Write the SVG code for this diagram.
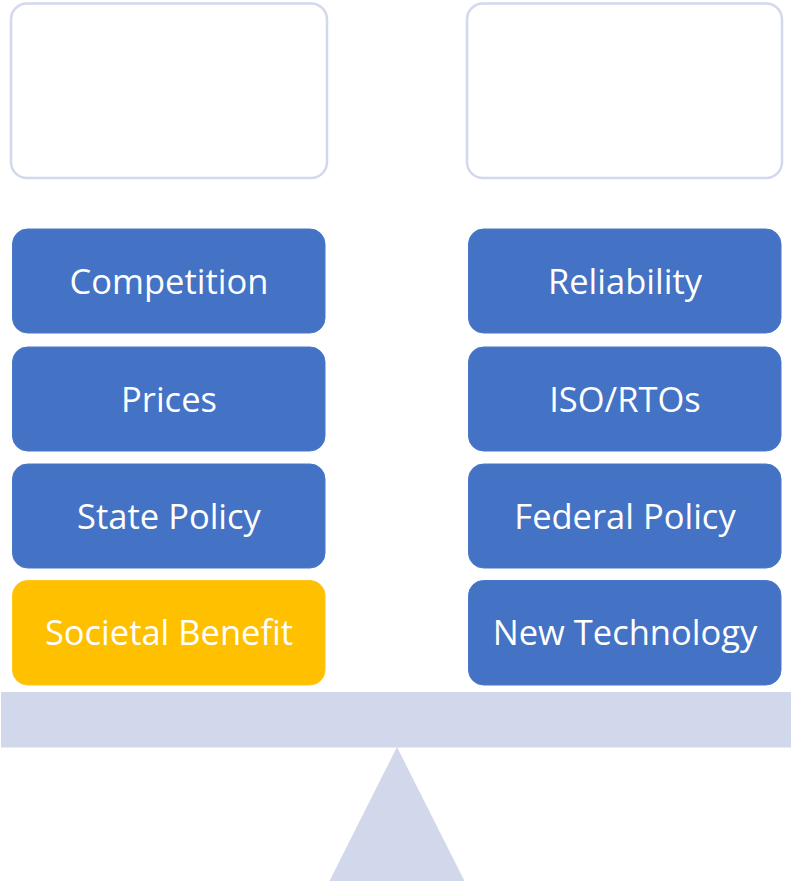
<svg xmlns="http://www.w3.org/2000/svg" width="791" height="884" viewBox="0 0 791 884">
  <style>
    .pan { fill: #FFFFFF; stroke: #D3D8EC; stroke-width: 2.5; }
    .blk { fill: #4472C4; stroke: #4A78C8; stroke-width: 1; }
    .gold { fill: #FFC000; stroke: #FFC61A; stroke-width: 1; }
    .lbl { fill: #FFFFFF; font-family: "Open Sans", "Liberation Sans", sans-serif; font-size: 34.5px; text-anchor: middle; dominant-baseline: central; }
    .scale { fill: #D2D8EB; }
  </style>
  <rect width="791" height="884" fill="#FFFFFF"/>

  <!-- empty pans -->
  <g id="pan-left"><rect class="pan" x="11" y="3.5" width="316" height="174.5" rx="16"/></g>
  <g id="pan-right"><rect class="pan" x="467" y="3.5" width="315" height="174.5" rx="16"/></g>

  <!-- left stack -->
  <g id="competition"><rect class="blk" x="12.5" y="229" width="312.5" height="104" rx="15"/><text class="lbl" x="169" y="280">Competition</text></g>
  <g id="prices"><rect class="blk" x="12.5" y="347" width="312.5" height="104" rx="15"/><text class="lbl" x="169" y="398">Prices</text></g>
  <g id="state-policy"><rect class="blk" x="12.5" y="464" width="312.5" height="104" rx="15"/><text class="lbl" x="169" y="515">State Policy</text></g>
  <g id="societal-benefit"><rect class="gold" x="12.5" y="580.5" width="312.5" height="104.5" rx="15"/><text class="lbl" x="169" y="631">Societal Benefit</text></g>

  <!-- right stack -->
  <g id="reliability"><rect class="blk" x="468.5" y="229" width="312.5" height="104" rx="15"/><text class="lbl" x="625" y="280">Reliability</text></g>
  <g id="iso-rtos"><rect class="blk" x="468.5" y="347" width="312.5" height="104" rx="15"/><text class="lbl" x="625" y="398">ISO/RTOs</text></g>
  <g id="federal-policy"><rect class="blk" x="468.5" y="464" width="312.5" height="104" rx="15"/><text class="lbl" x="625" y="515">Federal Policy</text></g>
  <g id="new-technology"><rect class="blk" x="468.5" y="580.5" width="312.5" height="104.5" rx="15"/><text class="lbl" x="625" y="631">New Technology</text></g>

  <!-- beam and fulcrum -->
  <g id="connectors">
    <rect class="scale" x="1" y="692" width="790" height="55.5"/>
    <polygon class="scale" points="397,747 464.5,881 329.5,881"/>
  </g>
</svg>
